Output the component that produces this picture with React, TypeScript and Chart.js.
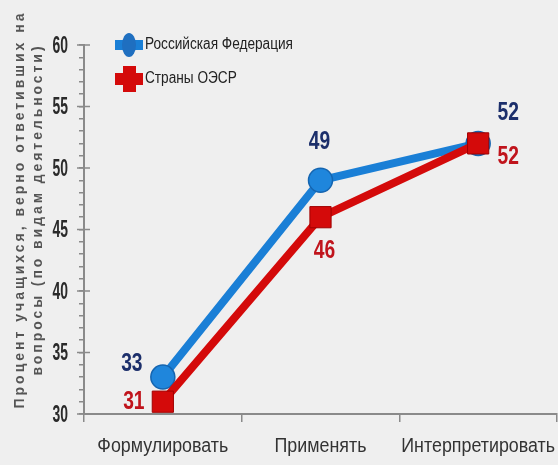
import React, { useEffect, useRef } from "react";
import { Chart, registerables } from "chart.js";

Chart.register(...registerables);

const categories = ["Формулировать", "Применять", "Интерпретировать"];
const seriesNames = ["Российская Федерация", "Страны ОЭСР"];
const russia = [33, 49, 52];
const oecd = [31, 46, 52];
const yMin = 30;
const yMax = 60;
const yStep = 5;
const yTitle = ["Процент учащихся, верно ответивших на", "вопросы (по видам деятельности)"];

const BLUE = "#1a7fd6";
const RED = "#d40a0a";
const NAVY = "#1c2f6b";
const DARKRED = "#c0141c";
const FONT = "'Liberation Sans', Arial, sans-serif";

// label offsets (style only)
const ruOffsets = [
  [-31, -13],
  [-1, -38],
  [30, -31],
];
const oeOffsets = [
  [-29, 0],
  [4, 34],
  [30, 13],
];

function drawScaled(
  ctx: CanvasRenderingContext2D,
  text: string,
  x: number,
  y: number,
  sx: number,
  align: CanvasTextAlign
) {
  ctx.save();
  ctx.translate(x, y);
  ctx.scale(sx, 1);
  ctx.textAlign = align;
  ctx.fillText(text, 0, 0);
  ctx.restore();
}

export default function App() {
  const ref = useRef<HTMLCanvasElement | null>(null);

  useEffect(() => {
    document.body.style.margin = "0";
    document.body.style.background = "#efefef";
    const canvas = ref.current!;

    const bgPlugin = {
      id: "bg",
      beforeDraw(chart: any) {
        const ctx = chart.ctx;
        ctx.save();
        ctx.fillStyle = "#efefef";
        ctx.fillRect(0, 0, chart.width, chart.height);
        ctx.restore();
      },
    };

    const extraPlugin = {
      id: "extra",
      afterDraw(chart: any) {
        const ctx = chart.ctx as CanvasRenderingContext2D;
        const ys = chart.scales.y;
        const xs = chart.scales.x;
        const area = chart.chartArea;
        ctx.save();
        ctx.textBaseline = "middle";

        // major ticks crossing axis + y labels
        ctx.strokeStyle = "#8a8a8a";
        ctx.lineWidth = 1.5;
        ctx.fillStyle = "#2a2a2a";
        ctx.font = `bold 24px ${FONT}`;
        for (let v = yMin; v <= yMax; v += yStep) {
          const py = ys.getPixelForValue(v);
          ctx.beginPath();
          ctx.moveTo(area.left - 7, py);
          ctx.lineTo(area.left + 6, py);
          ctx.stroke();
          drawScaled(ctx, String(v), 68, py + 1, 0.58, "right");
        }

        // x labels
        ctx.font = `20px ${FONT}`;
        ctx.fillStyle = "#333";
        const refW = ctx.measureText(categories[0]).width;
        const sxX = 131 / refW;
        categories.forEach((c, i) => {
          const px = xs.getPixelForValue(i);
          drawScaled(ctx, c, px, 446, sxX, "center");
        });

        // data labels
        ctx.font = `bold 26px ${FONT}`;
        const mRu = chart.getDatasetMeta(1).data;
        const mOe = chart.getDatasetMeta(0).data;
        russia.forEach((v, i) => {
          const p = mRu[i];
          ctx.fillStyle = NAVY;
          drawScaled(ctx, String(v), p.x + ruOffsets[i][0], p.y + ruOffsets[i][1], 0.74, "center");
        });
        oecd.forEach((v, i) => {
          const p = mOe[i];
          ctx.fillStyle = DARKRED;
          drawScaled(ctx, String(v), p.x + oeOffsets[i][0], p.y + oeOffsets[i][1], 0.74, "center");
        });

        // legend
        const lx = 129;
        const ly1 = 45;
        const ly2 = 79;
        ctx.fillStyle = BLUE;
        ctx.fillRect(lx - 14, ly1 - 5, 28, 10);
        ctx.beginPath();
        ctx.ellipse(lx, ly1, 7, 12, 0, 0, Math.PI * 2);
        ctx.fillStyle = "#1f6fc0";
        ctx.fill();
        ctx.fillStyle = RED;
        ctx.fillRect(lx - 14, ly2 - 6, 28, 12);
        ctx.fillRect(lx - 6, ly2 - 13, 13, 26);
        ctx.font = `16px ${FONT}`;
        ctx.fillStyle = "#222";
        const lw = ctx.measureText(seriesNames[0]).width;
        const sxL = 148 / lw;
        drawScaled(ctx, seriesNames[0], 145, ly1, sxL, "left");
        drawScaled(ctx, seriesNames[1], 145, ly2, sxL, "left");

        // y title
        ctx.fillStyle = "#555";
        ctx.font = `bold 14px ${FONT}`;
        ctx.textAlign = "center";
        const targets = [398, 332];
        const tx = [20, 38];
        yTitle.forEach((t, i) => {
          (ctx as any).letterSpacing = "0px";
          const w = ctx.measureText(t).width;
          const ls = Math.max(0, (targets[i] - w) / t.length);
          (ctx as any).letterSpacing = `${ls}px`;
          ctx.save();
          ctx.translate(tx[i], 211);
          ctx.rotate(-Math.PI / 2);
          ctx.fillText(t, ls / 2, 0);
          ctx.restore();
        });
        (ctx as any).letterSpacing = "0px";
        ctx.restore();
      },
    };

    const chart = new Chart(canvas, {
      type: "line",
      data: {
        labels: categories,
        datasets: [
          {
            label: seriesNames[1],
            data: oecd,
            borderColor: RED,
            backgroundColor: RED,
            borderWidth: 8,
            pointStyle: "rect",
            pointRadius: 15,
            pointBackgroundColor: RED,
            pointBorderColor: "#a00000",
            pointBorderWidth: 1,
            clip: false as any,
            tension: 0,
          },
          {
            label: seriesNames[0],
            data: russia,
            borderColor: BLUE,
            backgroundColor: BLUE,
            borderWidth: 8,
            pointStyle: "circle",
            pointRadius: 12,
            pointBackgroundColor: "#1f86dc",
            pointBorderColor: "#1565b0",
            pointBorderWidth: 1.5,
            clip: false as any,
            tension: 0,
          },
        ],
      },
      options: {
        animation: false,
        responsive: false,
        maintainAspectRatio: false,
        devicePixelRatio: 1,
        layout: { autoPadding: false, padding: { top: 45, right: 1, left: 0, bottom: 0 } },
        plugins: {
          legend: { display: false },
          tooltip: { enabled: false },
        },
        scales: {
          x: {
            offset: true,
            grid: {
              drawOnChartArea: false,
              drawTicks: true,
              tickLength: 8,
              color: "#8a8a8a",
              lineWidth: 1.5,
              offset: true,
            },
            border: { color: "#8a8a8a", width: 2 },
            ticks: {
              color: "rgba(0,0,0,0)",
              font: { family: FONT, size: 1 },
              autoSkip: false,
              maxRotation: 0,
              padding: 0,
            },
            afterFit(scale: any) {
              scale.height = 51;
              scale.paddingLeft = 0;
              scale.paddingRight = 0;
            },
          },
          y: {
            min: yMin,
            max: yMax,
            grid: {
              drawOnChartArea: false,
              drawTicks: true,
              tickLength: 5,
              color: "#8a8a8a",
              lineWidth: 1.5,
            },
            border: { color: "#8a8a8a", width: 2 },
            ticks: {
              stepSize: 1,
              autoSkip: false,
              color: "rgba(0,0,0,0)",
              font: { family: FONT, size: 1 },
              callback: () => "",
            },
            afterFit(scale: any) {
              scale.width = 84;
              scale.paddingTop = 0;
              scale.paddingBottom = 0;
            },
          },
        },
      },
      plugins: [bgPlugin, extraPlugin],
    });

    return () => chart.destroy();
  }, []);

  return (
    <div style={{ position: "fixed", left: 0, top: 0, width: 558, height: 465, background: "#efefef" }}>
      <canvas ref={ref} width={558} height={465} style={{ display: "block", width: 558, height: 465 }} />
    </div>
  );
}
